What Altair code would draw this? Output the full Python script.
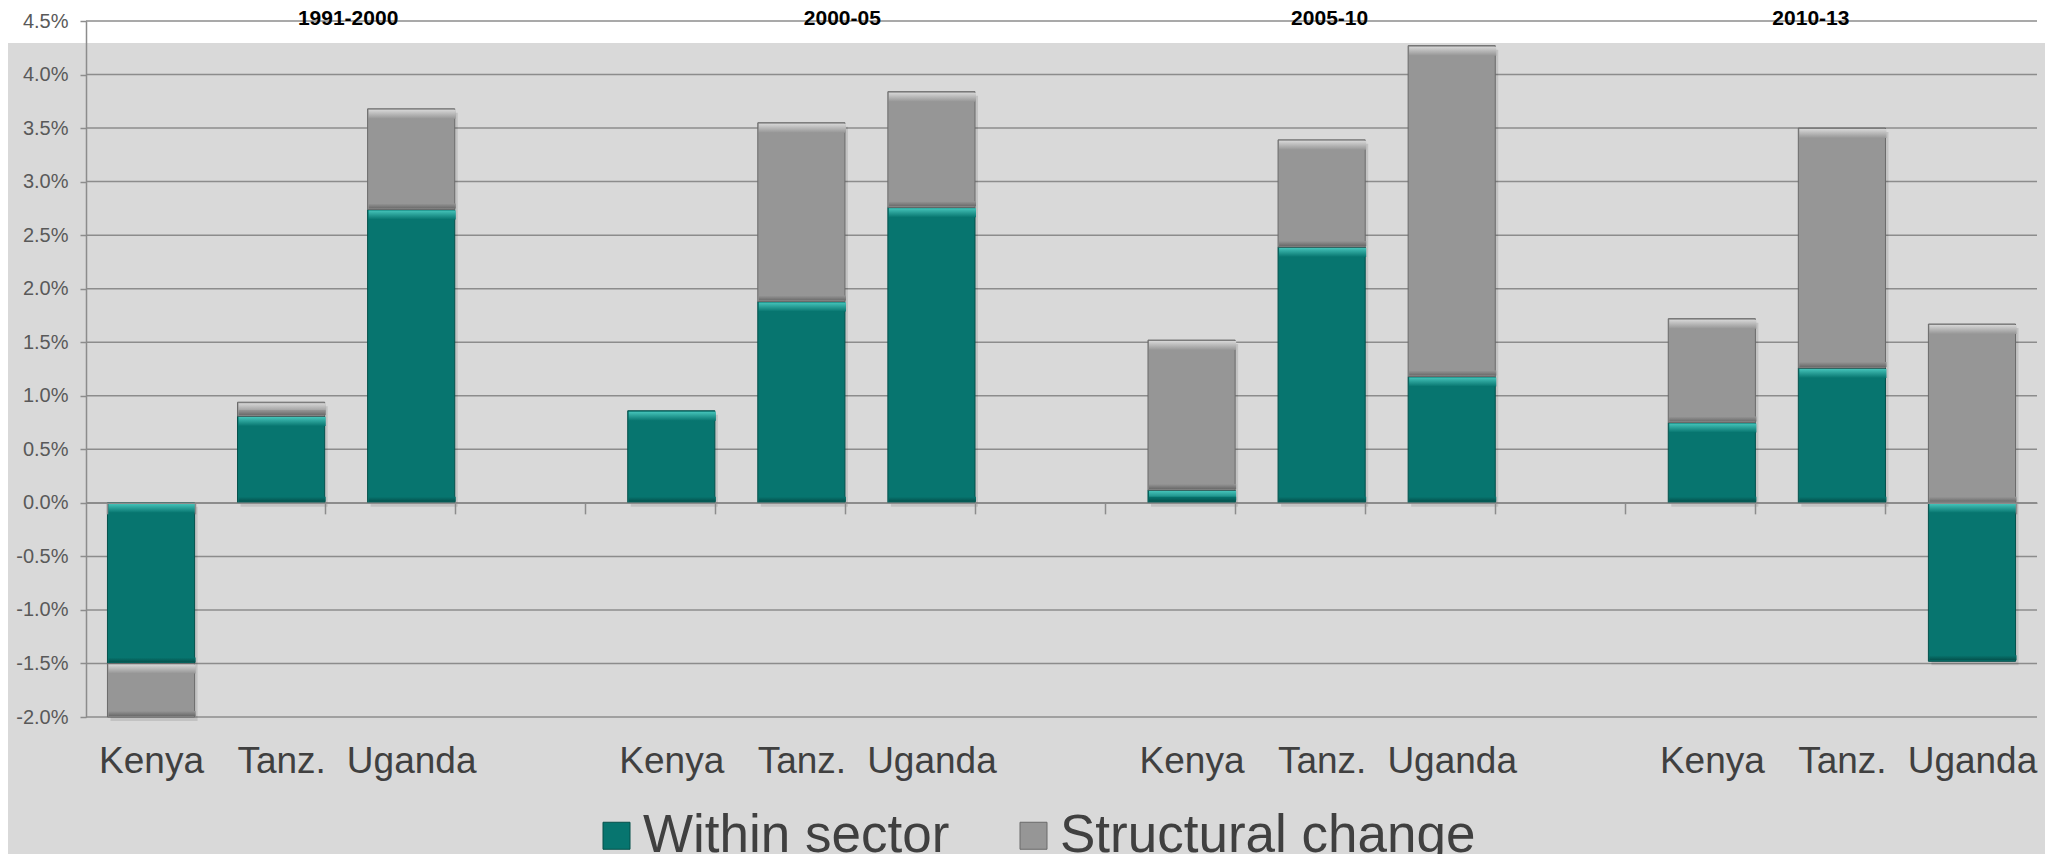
import altair as alt
import pandas as pd

# ---------------- data (percent) ----------------
PERIODS = ["1991-2000", "2000-05", "2005-10", "2010-13"]
COUNTRIES = ["Kenya", "Tanz.", "Uganda"]
COMPONENTS = ["Within sector", "Structural change"]
WITHIN = [
    [-1.50, 0.81, 2.74],
    [0.86, 1.88, 2.76],
    [0.12, 2.39, 1.18],
    [0.75, 1.26, -1.48],
]
STRUCTURAL = [
    [-0.50, 0.13, 0.94],
    [0.00, 1.67, 1.08],
    [1.40, 1.00, 3.09],
    [0.97, 2.24, 1.67],
]
Y_TICKS = [-2.0, -1.5, -1.0, -0.5, 0.0, 0.5, 1.0, 1.5, 2.0, 2.5, 3.0, 3.5, 4.0, 4.5]

# ---------------- table building ----------------
SLOTS = []
for gi, p in enumerate(PERIODS):
    for c in COUNTRIES:
        SLOTS.append(f"{p}|{c}")
    if gi < len(PERIODS) - 1:
        SLOTS.append(f"{p}|")

rows = []
for gi, p in enumerate(PERIODS):
    for ci, c in enumerate(COUNTRIES):
        for k, (comp, arr) in enumerate(zip(COMPONENTS, [WITHIN, STRUCTURAL])):
            v = arr[gi][ci]
            if v != 0:
                rows.append({"slot": f"{p}|{c}", "component": comp, "order": k, "value": v / 100.0})
df = pd.DataFrame(rows)
ticks_df = pd.DataFrame({"v": [t / 100.0 for t in Y_TICKS]})

Y_MIN, Y_MAX = Y_TICKS[0] / 100.0, Y_TICKS[-1] / 100.0

# ---------------- layout / style ----------------
W, H = 1951, 696
PAD = {"left": 78, "top": 13, "right": 8, "bottom": 137}
FONT = "Liberation Sans"
GRID = "#8c8c8c"
TEAL, TEAL_LIGHT, TEAL_DARK = "#07756f", "#45c3b9", "#04504b"
GREY, GREY_LIGHT, GREY_DARK = "#969696", "#d6d6d6", "#6a6a6a"
X_OFFSET = -H * (0 - Y_MIN) / (Y_MAX - Y_MIN)
TITLE_DX = [67, 41, 8, -31]

xscale = alt.Scale(domain=SLOTS, paddingInner=0.33, paddingOuter=0.165)
yscale = alt.Scale(domain=[Y_MIN, Y_MAX], nice=False, zero=False)

x_axis = alt.Axis(
    title=None, offset=X_OFFSET, tickBand="extent", tickSize=11, tickColor=GRID,
    tickWidth=1.5, domainColor=GRID, domainWidth=1.5, grid=False,
    labelExpr="split(datum.value, '|')[1]", labelFontSize=37, labelFont=FONT,
    labelColor="#404040", labelPadding=259, labelBaseline="alphabetic",
    labelAngle=0, labelOverlap=False, labelLimit=0,
)
y_axis = alt.Axis(
    title=None, values=[t / 100.0 for t in Y_TICKS], grid=False,
    labelExpr="(datum.value < -0.00001 ? '-' : '') + format(abs(datum.value), '.1%')",
    labelFontSize=20, labelFont=FONT, labelColor="#595959", labelPadding=12,
    tickSize=6, tickColor=GRID, tickWidth=1.5, domainColor=GRID, domainWidth=1.5,
    zindex=1,
)

one = pd.DataFrame({"a": [0]})

band = alt.Chart(one).mark_rect(color="white").encode(
    x=alt.value(-PAD["left"]), x2=alt.value(W + PAD["right"]),
    y=alt.value(-PAD["top"]), y2=alt.value(22),
)

grid = alt.Chart(ticks_df).mark_rule(color=GRID, strokeWidth=1.5).encode(
    y=alt.Y("v:Q", scale=yscale, axis=y_axis),
    x=alt.value(0), x2=alt.value(W),
)

base = alt.Chart(df).transform_stack(
    stack="value", as_=["v0", "v1"], groupby=["slot"],
    sort=[alt.SortField("order", order="ascending")],
).transform_calculate(
    top="max(datum.v0, datum.v1)", bot="min(datum.v0, datum.v1)"
)

shadow = base.mark_rect(color="black", opacity=0.10, xOffset=3, yOffset=4, y2Offset=4).encode(
    x=alt.X("slot:N", scale=xscale, axis=x_axis),
    y=alt.Y("v1:Q", scale=yscale, axis=y_axis),
    y2="v0:Q",
)

bars = base.mark_bar(strokeWidth=1).encode(
    x=alt.X("slot:N", scale=xscale, axis=x_axis),
    y=alt.Y("v1:Q", scale=yscale, axis=y_axis),
    y2="v0:Q",
    color=alt.Color(
        "component:N",
        scale=alt.Scale(domain=COMPONENTS, range=[TEAL, GREY]),
        legend=alt.Legend(
            title=None, orient="none", legendX=504, legendY=788, direction="horizontal",
            symbolType="square", symbolSize=729, symbolStrokeColor="#3a3a3a",
            symbolStrokeWidth=1, symbolOpacity=1, labelFontSize=53, labelFont=FONT,
            labelColor="#404040", labelOffset=0, columnPadding=57, padding=0,
            labelLimit=0,
        ),
    ),
    stroke=alt.Stroke(
        "component:N",
        scale=alt.Scale(domain=COMPONENTS, range=[TEAL_DARK, GREY_DARK]),
        legend=None,
    ),
)


def grad(c1, c2):
    return {"gradient": "linear", "x1": 0, "y1": 0, "x2": 0, "y2": 1,
            "stops": [{"offset": 0, "color": c1}, {"offset": 1, "color": c2}]}


def strips(comp, light, mid, dark):
    top = base.transform_filter(alt.datum.component == comp).mark_rect(
        fill=grad(light, mid), y2Offset=10, yOffset=1, x2Offset=-1, xOffset=1,
    ).encode(
        x=alt.X("slot:N", scale=xscale, axis=x_axis),
        y=alt.Y("top:Q", scale=yscale, axis=y_axis),
        y2="top:Q",
    )
    bottom = base.transform_filter(alt.datum.component == comp).mark_rect(
        fill=grad(mid, dark), yOffset=-6, y2Offset=-1, x2Offset=-1, xOffset=1,
    ).encode(
        x=alt.X("slot:N", scale=xscale, axis=x_axis),
        y=alt.Y("bot:Q", scale=yscale, axis=y_axis),
        y2="bot:Q",
    )
    return top + bottom


teal_strips = strips(COMPONENTS[0], TEAL_LIGHT, TEAL, TEAL_DARK)
grey_strips = strips(COMPONENTS[1], GREY_LIGHT, GREY, GREY_DARK)

titles = []
for gi, p in enumerate(PERIODS):
    tdf = pd.DataFrame({"slot": [f"{p}|{COUNTRIES[1]}"], "title": [p]})
    titles.append(
        alt.Chart(tdf).mark_text(
            font=FONT, fontSize=21, fontWeight="bold", color="black",
            baseline="alphabetic", align="center", dx=TITLE_DX[gi], dy=4,
        ).encode(
            x=alt.X("slot:N", scale=xscale, axis=x_axis),
            y=alt.datum(Y_MAX, scale=yscale, axis=y_axis),
            text="title:N",
        )
    )

chart = alt.layer(band, grid, shadow, bars, teal_strips, grey_strips, *titles).properties(
    width=W, height=H, padding=PAD,
    autosize=alt.AutoSizeParams(type="none"),
).configure(
    background="#d9d9d9",
).configure_view(stroke=None)

chart.save("out.html", embed_options={"renderer": "svg", "actions": False})
